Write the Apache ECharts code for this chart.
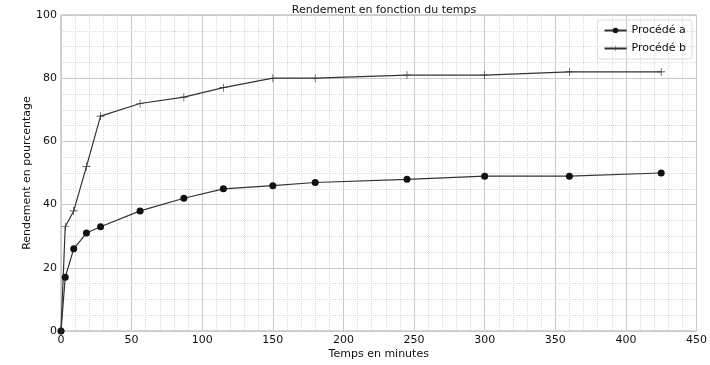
<!DOCTYPE html>
<html><head><meta charset="utf-8">
<script src="https://cdn.jsdelivr.net/npm/echarts@6/dist/echarts.min.js"></script>
<style>html,body{margin:0;padding:0;background:#fff}#c{width:710px;height:365px}</style>
</head><body><div id="c"></div>
<script>
const chartTitle = 'Rendement en fonction du temps';
const xName = 'Temps en minutes';
const yName = 'Rendement en pourcentage';
const timesA = [0, 3, 9, 18, 28, 56, 87, 115, 150, 180, 245, 300, 360, 425];
const valuesA = [0, 17, 26, 31, 33, 38, 42, 45, 46, 47, 48, 49, 49, 50];
const timesB = [0, 3, 9, 18, 28, 56, 87, 115, 150, 180, 245, 300, 360, 425];
const valuesB = [0, 33, 38, 52, 68, 72, 74, 77, 80, 80, 81, 81, 82, 82];
const seriesNames = ['Procédé a', 'Procédé b'];

const font = 'DejaVu Sans';
const fs = 11;
const plus = 'path://M4.6,0h0.8v10h-0.8z M0,4.6h10v0.8h-10z';
const chart = echarts.init(document.getElementById('c'));
chart.setOption({
  animation: false,
  textStyle: {fontFamily: font},
  title: {text: chartTitle, left: 379, top: 0, textAlign: 'center',
    textStyle: {fontFamily: font, fontSize: fs, fontWeight: 'normal', color: '#111'}},
  legend: {right: 18, top: 20, orient: 'vertical', itemWidth: 22, itemHeight: 7, itemGap: 7,
    borderColor: '#ddd', borderWidth: 1, borderRadius: 3, padding: [5, 6, 5, 6],
    textStyle: {fontFamily: font, fontSize: fs, color: '#111'},
    data: seriesNames},
  grid: {left: 61, right: 12, top: 15, bottom: 33, show: true, borderColor: '#aaa', borderWidth: 1},
  xAxis: {type: 'value', min: 0, max: 450, interval: 50,
    name: xName, nameLocation: 'middle', nameGap: 18, nameMoveOverlap: false,
    nameTextStyle: {fontFamily: font, fontSize: fs, color: '#111'},
    axisLine: {show: false}, axisTick: {show: false},
    axisLabel: {fontFamily: font, fontSize: fs, color: '#111', margin: 4},
    splitLine: {show: true, lineStyle: {color: '#cbcbcb', width: 1}},
    minorTick: {show: false, splitNumber: 5},
    minorSplitLine: {show: true, lineStyle: {color: '#dadada', width: 1, type: 'dotted'}}},
  yAxis: {type: 'value', min: 0, max: 100, interval: 20,
    name: yName, nameLocation: 'middle', nameGap: 28, nameRotate: 90, nameMoveOverlap: false,
    nameTextStyle: {fontFamily: font, fontSize: fs, color: '#111'},
    axisLine: {show: false}, axisTick: {show: false},
    axisLabel: {fontFamily: font, fontSize: fs, color: '#111', margin: 4},
    splitLine: {show: true, lineStyle: {color: '#cbcbcb', width: 1}},
    minorTick: {show: false, splitNumber: 4},
    minorSplitLine: {show: true, lineStyle: {color: '#dadada', width: 1, type: 'dotted'}}},
  series: [
    {name: seriesNames[0], type: 'line', data: timesA.map((t, i) => [t, valuesA[i]]),
      symbol: 'circle', symbolSize: 7, color: '#111',
      lineStyle: {color: '#333', width: 1.2}, itemStyle: {color: '#111'}},
    {name: seriesNames[1], type: 'line', data: timesB.map((t, i) => [t, valuesB[i]]),
      symbol: plus, symbolSize: 8, color: '#333',
      lineStyle: {color: '#333', width: 1.2}, itemStyle: {color: '#333'}}
  ]
});
</script></body></html>
